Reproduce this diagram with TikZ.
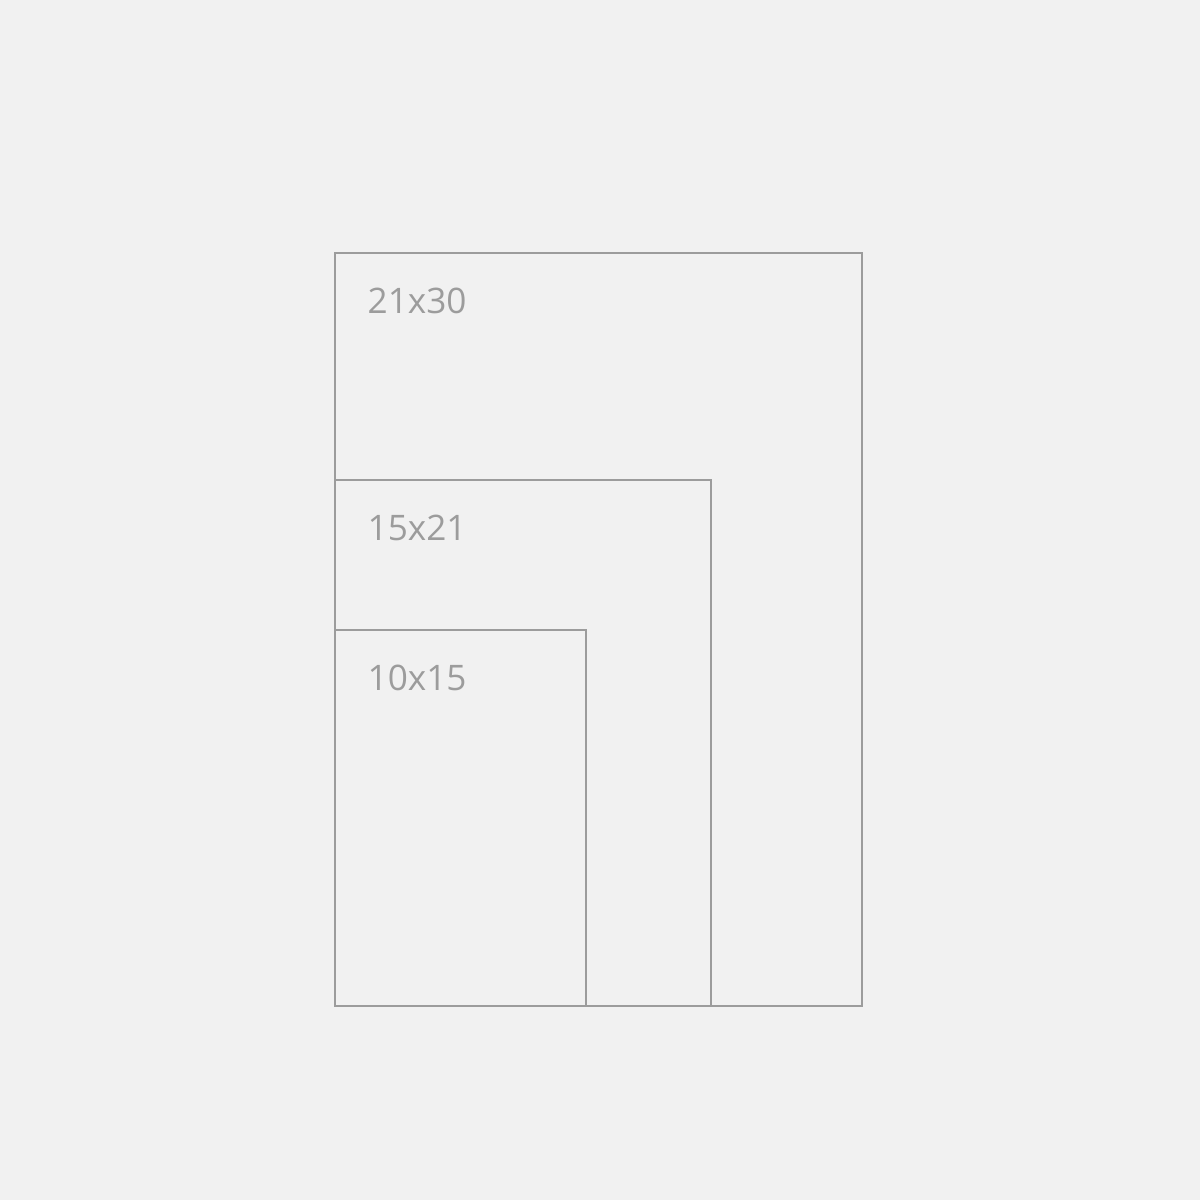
\documentclass[tikz,border=0pt]{standalone}
\usepackage{fontspec}
\setmainfont{Open Sans}
\usetikzlibrary{positioning}
\definecolor{paper}{HTML}{F1F1F1}
\definecolor{frameline}{HTML}{9C9C9C}
\begin{document}
\begin{tikzpicture}[x=0.01cm,y=-0.01cm]
            \tikzstyle{frame}=[draw=frameline, line width=0.65pt]
            \tikzstyle{size}=[text=frameline, font=\fontsize{10}{12}\selectfont,
            inner sep=0pt, anchor=base west]
            \fill[paper] (0,0) rectangle (1200,1200);
            \coordinate (o) at (335,1006);
            \draw[frame] (o) rectangle (862,253);
            \draw[frame] (o) rectangle (711,480);
            \draw[frame] (o) rectangle (586,630);
            \node[size] (big) at (367,313) {21x30};
            \node[size] (mid) at (367,540) {15x21};
            \node[size] (small) at (367,690) {10x15};
        \end{tikzpicture}
\end{document}
